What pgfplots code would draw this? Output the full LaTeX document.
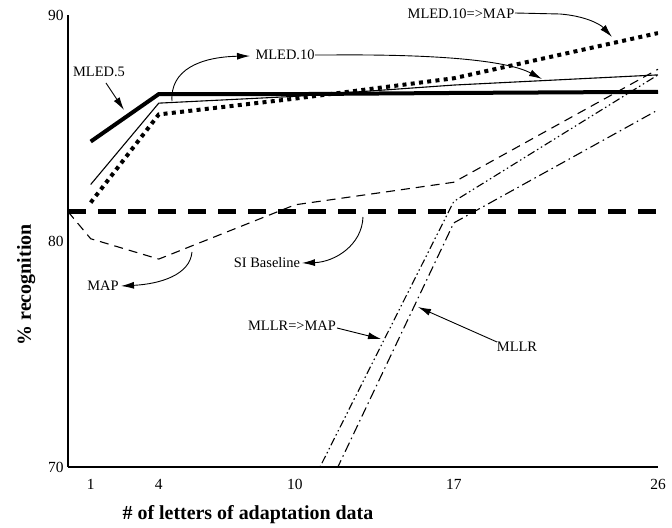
\documentclass[border=0pt]{standalone}
\usepackage{fontspec}
\setmainfont{Liberation Serif}
\usepackage{pgfplots}
\pgfplotsset{compat=1.18}
\usetikzlibrary{arrows.meta}

\begin{document}
\begin{tikzpicture}
\begin{axis}[
  scale only axis, width=590bp, height=452bp,
  at={(0,0)}, anchor=south west,
  xmin=0, xmax=26, ymin=70, ymax=90,
  axis x line*=bottom, axis y line*=left,
  axis line style={line width=1.4bp},
  xtick={1,4,10,17,26}, ytick={70,80,90},
  major tick length=0pt,
  /pgf/number format/assume math mode=true,
  tick label style={font=\fontsize{15.5}{17}\selectfont},
  xticklabel style={yshift=-9bp},
  yticklabel style={xshift=-1bp},
  xlabel={\textbf{\# of letters of adaptation data}},
  ylabel={\textbf{\% recognition}},
  label style={font=\fontsize{20}{24}\selectfont},
  xlabel style={at={(axis description cs:0.305,-0.106)}, anchor=center},
  ylabel style={at={(axis description cs:-0.071,0.403)}, anchor=center},
]
% MLED.5
\addplot[black, line width=4bp] coordinates {(1,84.4)(4,86.5)(10,86.5)(17,86.55)(26,86.6)};
% MLED.10
\addplot[black, line width=1.1bp] coordinates {(1,82.5)(4,86.1)(10,86.4)(17,86.9)(26,87.35)};
% MLED.10=>MAP
\addplot[black, line width=4bp, dash pattern=on 4bp off 4.3bp] coordinates {(1,81.7)(4,85.6)(10,86.3)(17,87.2)(26,89.2)};
% MAP
\addplot[black, line width=1.1bp, dash pattern=on 9bp off 6bp] coordinates {(0,81.3)(1,80.1)(4,79.2)(10,81.6)(17,82.6)(26,87.6)};
% SI Baseline
\addplot[black, line width=4.5bp, dash pattern=on 18bp off 12bp] coordinates {(0,81.3)(26,81.3)};
% MLLR=>MAP
\addplot[black, line width=1.1bp, dash pattern=on 8bp off 3bp on 1.5bp off 3bp on 1.5bp off 3bp] coordinates {(10,67.8)(17,81.75)(26,87.35)};
% MLLR
\addplot[black, line width=1.1bp, dash pattern=on 10bp off 4bp on 1.5bp off 4bp] coordinates {(10,66.0)(17,80.8)(26,85.8)};
\end{axis}

\begin{scope}[x=1bp,y=-1bp,shift={(-68bp,467bp)},
  every node/.style={font=\fontsize{14.5}{16}\selectfont, inner sep=1bp},
  arr/.style={-{Latex[length=13bp,width=7bp]}, line width=0.9bp}]
\node at (99,72) {MLED.5};
\draw[arr] (106,83) -- (124,110);
\node at (285,55) {MLED.10};
\draw[arr] (172,101) .. controls (170,70) and (200,57) .. (250,56);
\draw[arr] (315,55) -- (330,55) .. controls (450,54) and (510,62) .. (542,79);
\node at (461,14) {MLED.10=>MAP};
\draw[arr] (515,13) -- (560,14) .. controls (585,16) and (600,24) .. (612,37);
\node at (267,263) {SI Baseline};
\draw[arr] (363,217) .. controls (362,245) and (335,262) .. (302,263);
\node at (103,286) {MAP};
\draw[arr] (192,252) .. controls (190,275) and (160,284) .. (121,286);
\node at (292,326) {MLLR=>MAP};
\draw[arr] (337,328) -- (381,339);
\node at (517,347) {MLLR};
\draw[arr] (497,342) -- (418,307);
\end{scope}

\path (-68bp,-60bp) rectangle (604bp,467bp);
\end{tikzpicture}
\end{document}
